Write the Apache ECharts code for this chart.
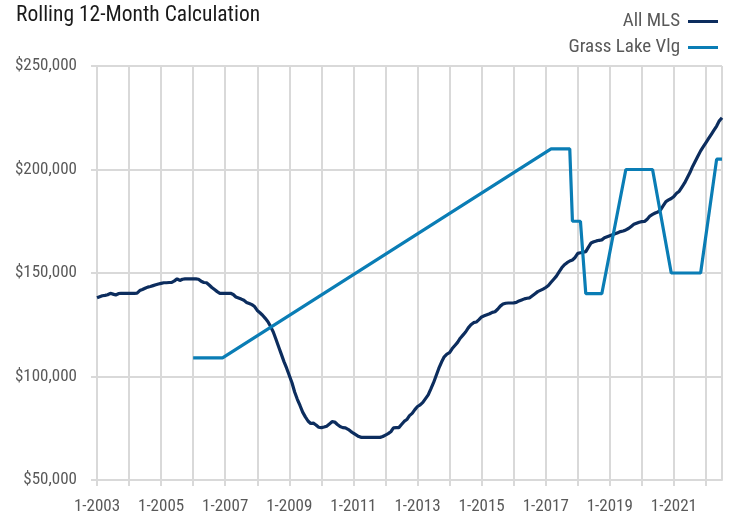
<!DOCTYPE html>
<html>
<head>
<meta charset="utf-8">
<script src="https://cdn.jsdelivr.net/npm/echarts@6/dist/echarts.min.js"></script>
<style>
html,body{margin:0;padding:0;background:#fff;}
#chart{width:732px;height:515px;}
</style>
</head>
<body>
<div id="chart"></div>
<script>
// Monthly categories: Jan 2003 .. Jul 2022
var startYear = 2003;
var monthCount = 235;
var categories = [];
for (var i = 0; i < monthCount; i++) {
  categories.push(((i % 12) + 1) + '-' + (startYear + Math.floor(i / 12)));
}
var seriesNames = ['All MLS', 'Grass Lake Vlg'];
var yTicks = [50000, 100000, 150000, 200000, 250000];

// All MLS, one line per year (Jan..Dec)
var allMLS = [
  138000,138500,139000,139200,139500,140200,139800,139400,140000,140200,140200,140200,
  140200,140200,140200,140300,141500,142000,142600,143200,143500,143900,144300,144700,
  145000,145300,145300,145400,145500,146200,147200,146400,147000,147200,147200,147200,
  147200,147200,147000,146000,145400,145300,144200,143000,142000,141000,140200,140200,
  140200,140200,140200,139600,138400,137900,137400,136800,135800,135300,134700,133800,
  131900,130800,129600,128100,126500,124100,121500,118000,114400,110800,107200,104000,
  100500,97000,92500,89000,86000,82800,80500,78500,77300,77500,76600,75500,
  75300,75600,76000,77000,78200,78000,76800,75800,75300,75200,74500,73500,
  72600,71800,71000,70600,70600,70600,70600,70600,70600,70600,70600,71000,
  71700,72400,73300,75200,75300,75300,76800,78300,79200,81100,82200,84000,
  85500,86300,87500,89300,91100,94000,97000,100500,104000,107000,109500,110800,
  111500,113500,115000,116500,118500,120000,121500,123500,125000,126000,126300,127500,
  128800,129300,129800,130300,131000,131300,132500,134000,135000,135400,135500,135500,
  135600,135800,136500,137000,137500,137800,138000,139000,140000,141000,141600,142200,
  143000,144000,145500,147000,148500,150500,152500,154000,155000,155800,156300,157500,
  159500,159800,160000,160300,162500,164500,165100,165500,165800,166000,167000,167500,
  168000,168500,169000,169500,170000,170300,170800,171500,172500,173500,174000,174500,
  174800,174900,176000,177500,178300,179000,179500,180500,182500,184500,185300,186000,
  187000,188500,189500,191500,193500,196000,198500,201500,204000,206500,209000,211000,
  213000,215000,217000,219000,221000,223500,225000
];

// Grass Lake Vlg (null = no value that month; line connects across gaps)
var grassLake = [
  null,null,null,null,null,null,null,null,null,null,null,null,
  null,null,null,null,null,null,null,null,null,null,null,null,
  null,null,null,null,null,null,null,null,null,null,null,null,
  109000,109000,109000,109000,109000,109000,109000,109000,109000,109000,109000,109000,
  null,null,null,null,null,null,null,null,null,null,null,null,
  null,null,null,null,null,null,null,null,null,null,null,null,
  null,null,null,null,null,null,null,null,null,null,null,null,
  null,null,null,null,null,null,null,null,null,null,null,null,
  null,null,null,null,null,null,null,null,null,null,null,null,
  null,null,null,null,null,null,null,null,null,null,null,null,
  null,null,null,null,null,null,null,null,null,null,null,null,
  null,null,null,null,null,null,null,null,null,null,null,null,
  null,null,null,null,null,null,null,null,null,null,null,null,
  null,null,null,null,null,null,null,null,null,null,null,null,
  null,null,210000,210000,210000,210000,210000,210000,210000,210000,175000,175000,
  175000,175000,null,140000,140000,140000,140000,140000,140000,140000,null,null,
  null,null,null,null,null,null,200000,200000,200000,200000,200000,200000,
  200000,200000,200000,200000,200000,null,null,null,null,null,null,150000,
  150000,150000,150000,150000,150000,150000,150000,150000,150000,150000,150000,null,
  null,null,null,null,205000,205000,205000
];

var gridColor = '#d9d9d9';
var labelColor = '#595959';
var fontFam = '"Roboto Condensed", "Liberation Sans Narrow", Roboto, sans-serif';

var chart = echarts.init(document.getElementById('chart'));
chart.setOption({
  animation: false,
  backgroundColor: '#fff',
  title: {
    text: 'Rolling 12-Month Calculation',
    left: 11, top: 0,
    textStyle: { fontFamily: fontFam, fontSize: 21.5, fontWeight: 'normal', color: '#1a1a1a' }
  },
  legend: {
    orient: 'vertical',
    right: 9, top: 7,
    align: 'right',
    itemWidth: 30, itemHeight: 3,
    itemGap: 7,
    icon: 'rect',
    textStyle: { fontFamily: fontFam, fontSize: 19, lineHeight: 19, color: labelColor, padding: [0, 3, 0, 0] },
    data: seriesNames
  },
  grid: { left: 97, right: 10, top: 66, bottom: 35, containLabel: false },
  xAxis: {
    type: 'category',
    boundaryGap: false,
    data: categories,
    axisLine: { show: true, lineStyle: { color: gridColor, width: 2 } },
    axisTick: { show: true, length: 6, lineStyle: { color: gridColor, width: 2 },
      interval: function (idx) { return idx % 12 === 0; } },
    axisLabel: { color: labelColor, fontFamily: fontFam, fontSize: 17, margin: 18,
      interval: function (idx) { return idx % 24 === 0; } },
    splitLine: { show: true, lineStyle: { color: gridColor, width: 2 },
      interval: function (idx) { return idx % 12 === 0 || idx === monthCount - 1; } }
  },
  yAxis: {
    type: 'value',
    min: yTicks[0], max: yTicks[yTicks.length - 1], interval: 50000,
    axisLine: { show: true, lineStyle: { color: gridColor, width: 2 } },
    axisTick: { show: true, length: 6, lineStyle: { color: gridColor, width: 2 } },
    axisLabel: { color: labelColor, fontFamily: fontFam, fontSize: 17, margin: 20,
      formatter: function (v) { return '$' + String(v).replace(/\B(?=(\d{3})+(?!\d))/g, ','); } },
    splitLine: { show: true, lineStyle: { color: gridColor, width: 2 } }
  },
  series: [
    { name: seriesNames[0], type: 'line', data: allMLS, showSymbol: false, symbol: 'none',
      lineStyle: { color: '#0c2d5e', width: 3.2 }, itemStyle: { color: '#0c2d5e' } },
    { name: seriesNames[1], type: 'line', data: grassLake, showSymbol: false, symbol: 'none',
      connectNulls: true,
      lineStyle: { color: '#0a7db5', width: 3.2 }, itemStyle: { color: '#0a7db5' } }
  ]
});
</script>
</body>
</html>
